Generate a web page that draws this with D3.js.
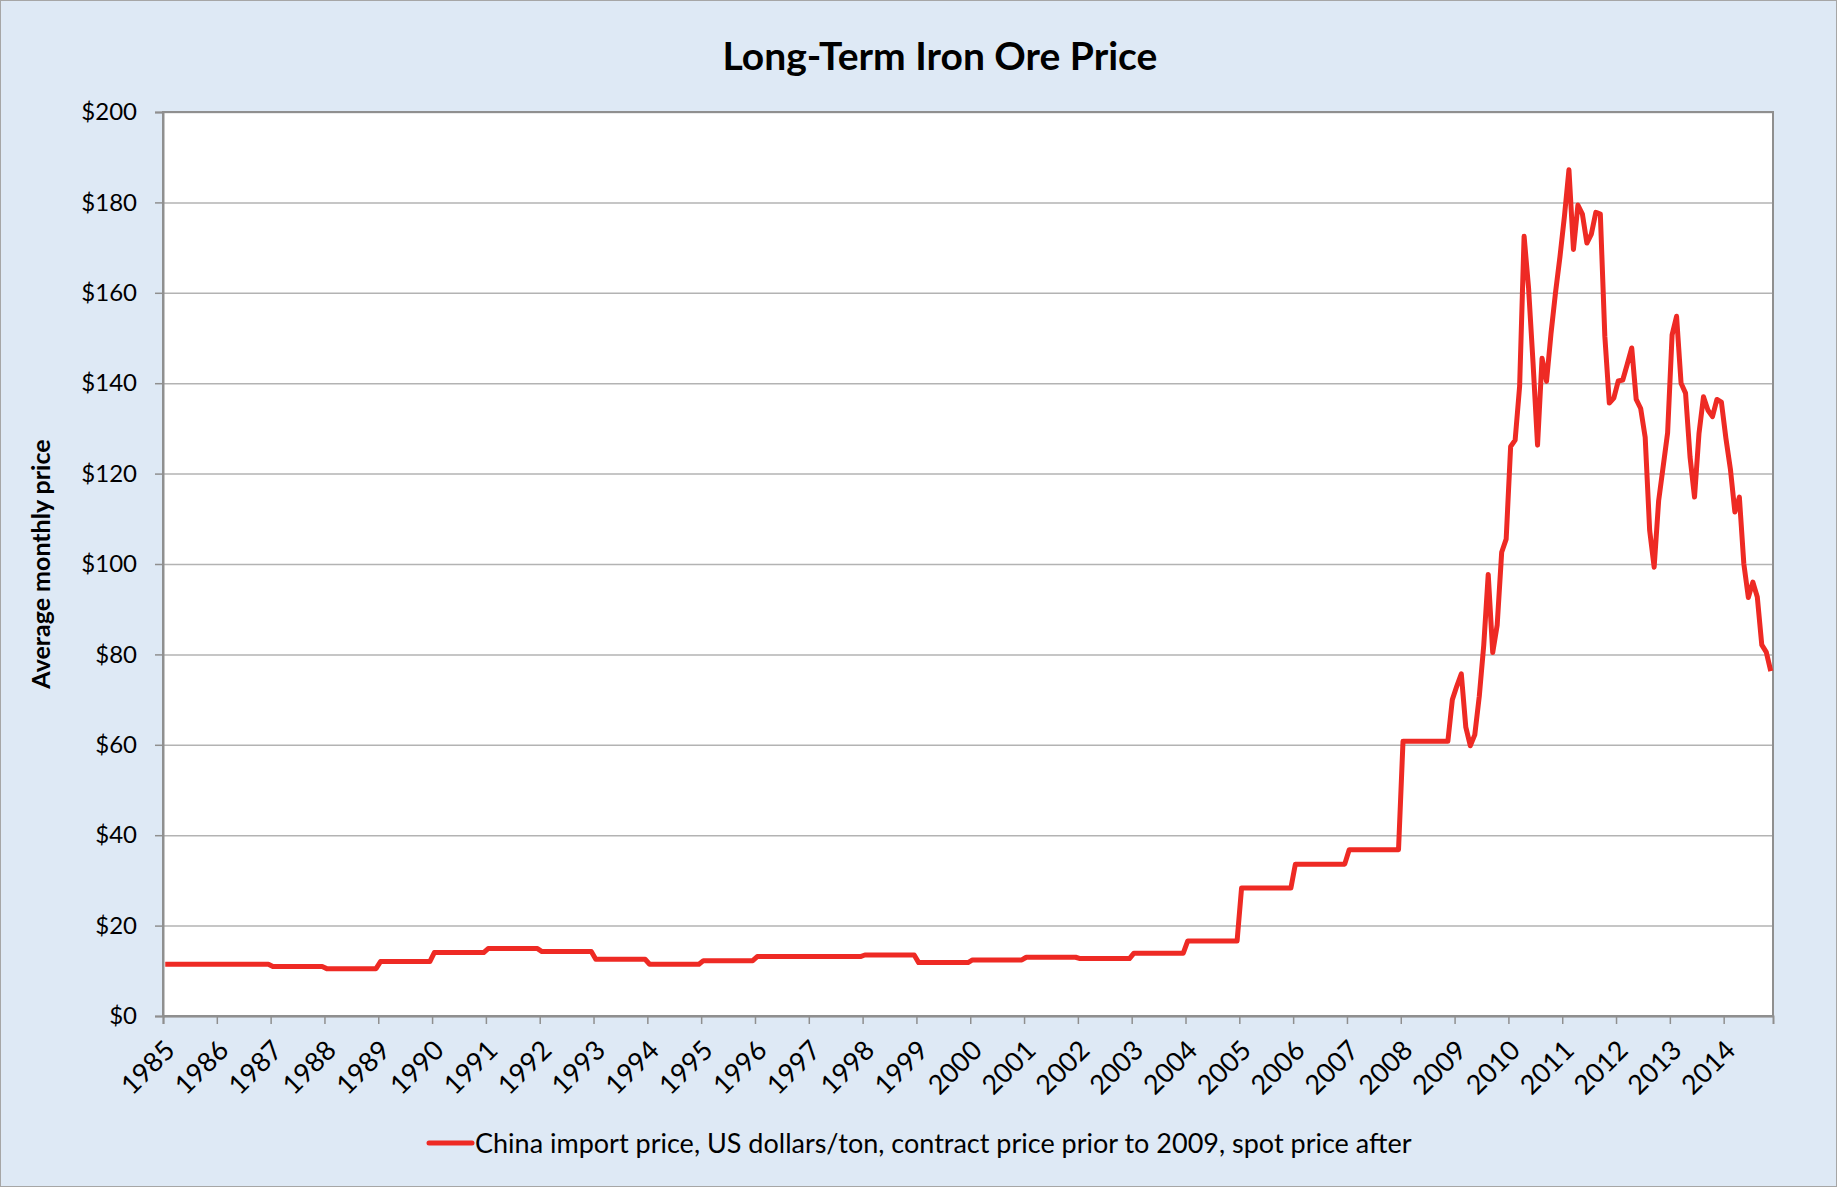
<!DOCTYPE html>
<html>
<head>
<meta charset="utf-8">
<script src="https://cdn.jsdelivr.net/npm/d3@7/dist/d3.min.js"></script>
<style>
body { margin: 0; background: #ffffff; }
text { font-family: Lato, "Open Sans", sans-serif; fill: #000; }
</style>
</head>
<body>
<svg id="chart"></svg>
<script>
// tick labels
var years = [1985, 1986, 1987, 1988, 1989, 1990, 1991, 1992, 1993, 1994,
             1995, 1996, 1997, 1998, 1999, 2000, 2001, 2002, 2003, 2004,
             2005, 2006, 2007, 2008, 2009, 2010, 2011, 2012, 2013, 2014]
var yTicks = [0, 20, 40, 60, 80, 100, 120, 140, 160, 180, 200]

// annual contract price, 1985 .. 2008 (same every month of the year)
var contractPrices = [11.44, 11.44, 10.93, 10.48, 12.03, 14.03, 14.91, 14.25, 12.55, 11.44,
                      12.25, 13.14, 13.14, 13.5, 11.81, 12.4, 13.0, 12.7, 13.9, 16.6,
                      28.3, 33.6, 36.8, 60.8]

// monthly spot price, Dec 2008 .. Nov 2014
var spotPrices = [70.0,
    73.0, 75.7, 63.9, 59.8, 62.2, 70.7, 82.0, 97.7, 80.4, 86.5, 102.6, 105.5,
    126.0, 127.4, 139.3, 172.5, 161.0, 144.4, 126.3, 145.5, 140.4, 151.0, 160.0, 168.0,
    177.0, 187.2, 169.6, 179.4, 177.4, 171.0, 173.0, 177.8, 177.4, 150.4, 135.6, 136.7,
    140.5, 140.7, 144.2, 147.8, 136.4, 134.4, 128.0, 107.4, 99.3, 114.0, 121.5, 129.0,
    150.7, 154.8, 140.0, 137.8, 123.7, 114.8, 128.9, 137.0, 134.0, 132.6, 136.4, 135.8,
    127.8, 121.0, 111.5, 114.8, 100.0, 92.6, 96.0, 92.7, 82.1, 80.5, 76.3]

var title = "Long-Term Iron Ore Price"
var yTitle = "Average monthly price"
var legendText = "China import price, US dollars/ton, contract price prior to 2009, spot price after"

var W = 1837, H = 1187
var margin = { top: 112, right: 64, bottom: 171, left: 163 }
var width = W - margin.left - margin.right
var height = H - margin.top - margin.bottom

// monthly series, Jan 1985 .. Nov 2014: contract months up to Nov 2008, then spot
var series = []
contractPrices.forEach(p => { for (var m = 0; m < 12; m++) series.push(p) })
series = series.slice(0, series.length - 1).concat(spotPrices)

var svg = d3.select("#chart")
    .attr("width", W)
    .attr("height", H)

svg.append("rect")
    .attr("x", 0.5).attr("y", 0.5)
    .attr("width", W - 1).attr("height", H - 1)
    .attr("fill", "#dee9f5")
    .attr("stroke", "#a6a6a6")

var g = svg.append("g")
    .attr("transform", "translate(" + margin.left + "," + margin.top + ")")

g.append("rect")
    .attr("width", width).attr("height", height)
    .attr("fill", "#ffffff")

var xScale = d3.scaleLinear().domain([0, series.length]).range([0, width])
var yScale = d3.scaleLinear().domain([0, 200]).range([height, 0])

// gridlines
g.append("g")
    .attr("class", "grid")
    .call(d3.axisLeft(yScale).tickValues(yTicks).tickSize(-width).tickFormat(""))
    .call(s => s.select(".domain").remove())
    .call(s => s.selectAll("line").attr("stroke", "#b3b3b3").attr("stroke-width", 1.5))

// plot border
g.append("rect")
    .attr("width", width).attr("height", height)
    .attr("fill", "none")
    .attr("stroke", "#8f8f8f")
    .attr("stroke-width", 2)

// y axis
g.append("g")
    .attr("class", "y axis")
    .call(d3.axisLeft(yScale).tickValues(yTicks).tickSize(8).tickPadding(18)
        .tickFormat(d => "$" + d))
    .call(s => s.select(".domain").attr("stroke", "#8f8f8f").attr("stroke-width", 2))
    .call(s => s.selectAll("line").attr("stroke", "#8f8f8f").attr("stroke-width", 1.5))
    .call(s => s.selectAll("text").attr("font-size", 24).attr("font-family", "Lato"))

// x axis, a tick at the start of every January
g.append("g")
    .attr("class", "x axis")
    .attr("transform", "translate(0," + height + ")")
    .call(d3.axisBottom(xScale).tickValues(years.map((d, k) => k * 12)).tickSize(8)
        .tickFormat((d, k) => years[k]))
    .call(s => s.select(".domain").attr("stroke", "#8f8f8f").attr("stroke-width", 2))
    .call(s => s.selectAll("line").attr("stroke", "#8f8f8f").attr("stroke-width", 1.5))
    .call(s => s.selectAll("text")
        .attr("font-size", 27)
        .attr("font-family", "Lato")
        .attr("text-anchor", "end")
        .attr("x", 0).attr("y", 0).attr("dy", 0)
        .attr("transform", "translate(13,36) rotate(-45)"))

var line = d3.line()
    .x((d, i) => xScale(i + 0.5))
    .y(d => yScale(d))

g.append("path")
    .datum(series)
    .attr("fill", "none")
    .attr("stroke", "#ee2a24")
    .attr("stroke-width", 5)
    .attr("stroke-linejoin", "round")
    .attr("d", line)

svg.append("text")
    .attr("x", 940).attr("y", 70)
    .attr("text-anchor", "middle")
    .attr("font-size", 39)
    .attr("font-weight", "bold")
    .text(title)

svg.append("text")
    .attr("transform", "translate(50," + (margin.top + height / 2) + ") rotate(-90)")
    .attr("text-anchor", "middle")
    .attr("font-size", 25)
    .attr("font-weight", "bold")
    .text(yTitle)

svg.append("line")
    .attr("x1", 429).attr("x2", 472)
    .attr("y1", 1143).attr("y2", 1143)
    .attr("stroke", "#ee2a24")
    .attr("stroke-width", 5)
    .attr("stroke-linecap", "round")

svg.append("text")
    .attr("x", 475).attr("y", 1153)
    .attr("font-size", 27)
    .text(legendText)
</script>
</body>
</html>
